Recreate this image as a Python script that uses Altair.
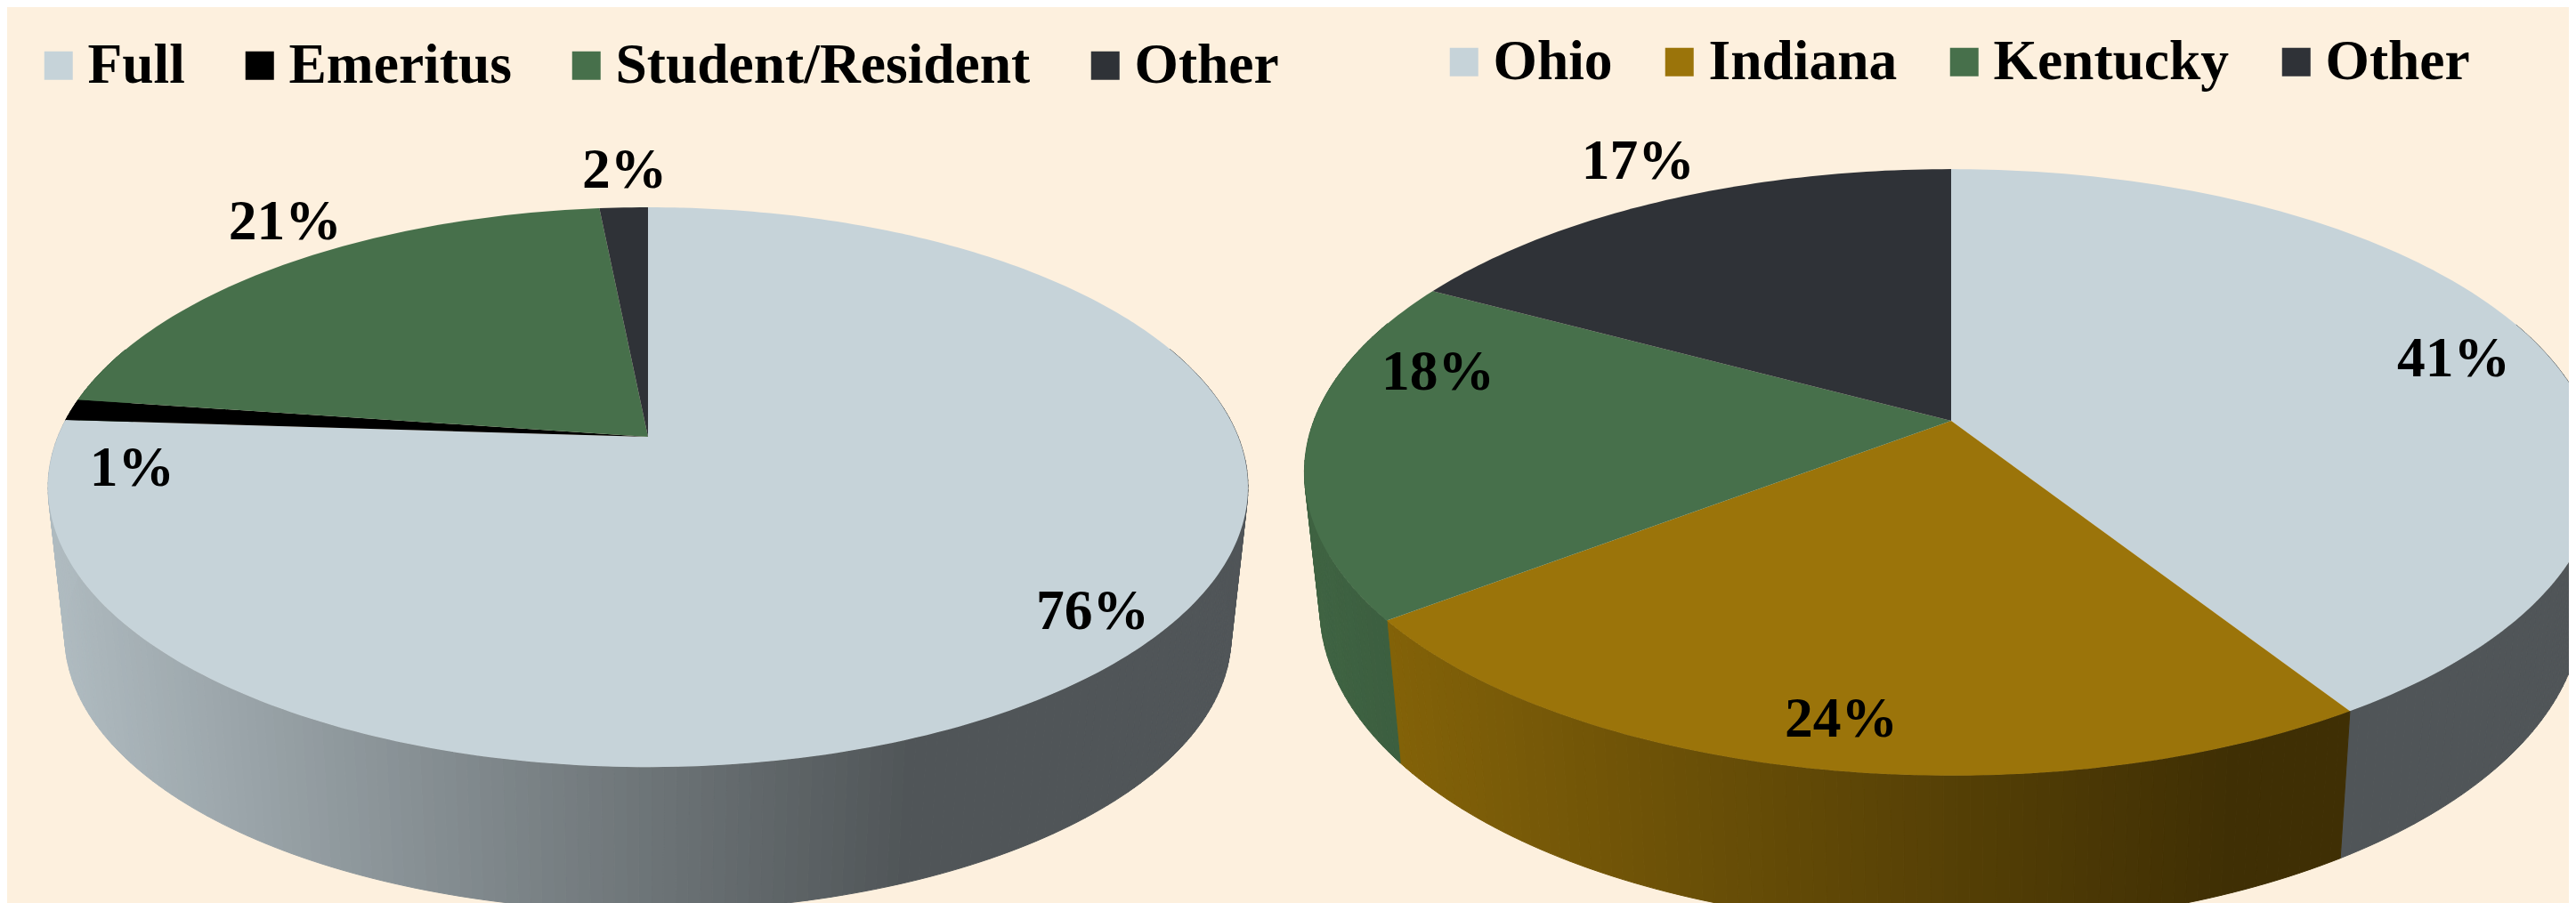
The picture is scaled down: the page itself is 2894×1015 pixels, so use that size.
import math
import altair as alt

# ---- data (percent of each pie, clockwise from 12 o'clock)
LEFT_CATS = ["Full", "Emeritus", "Student/Resident", "Other"]
LEFT_VALUES = [76.0, 1.25, 21.2, 1.55]
RIGHT_CATS = ["Ohio", "Indiana", "Kentucky", "Other"]
RIGHT_VALUES = [41.0, 23.6, 18.3, 17.1]

# ---- styles
LEFT_COLORS = ["#c6d3d9", "#000000", "#47704b", "#2f3237"]
RIGHT_COLORS = ["#c6d3d9", "#9b740a", "#47704b", "#2f3237"]
BG = "#fdf0de"
FONT = "Liberation Serif"
FS = 63.5

# ---- perspective model of each pie: rim point = homography of the unit circle
LEFT_PIE = dict(cx=728, y0=491, a=663, b=304.4, k=0.18, sx=0.972, sy=0.983, y0b=659)
RIGHT_PIE = dict(cx=2192, y0=473, a=716, b=331, k=0.17, sx=0.976, sy=1.05, y0b=622)
# label nudges from the rim point at each slice's mid angle
LEFT_NUDGE = [(-23, -39), (68, 85), (-2, -27), (1, -22)]
RIGHT_NUDGE = [(-92, 38), (27, -36), (147, -61), (-32, -24)]


def rim(p, deg):
    t = math.radians(deg)
    u, v = math.sin(t), math.cos(t)
    w = 1 + p["k"] * v
    return p["cx"] + p["a"] * u / w, p["y0"] - p["b"] * v / w


def rim_low(p, deg):
    x, y = rim(p, deg)
    return p["cx"] + (x - p["cx"]) * p["sx"], p["y0b"] + (y - p["y0"]) * p["sy"]


def shade(p, x):
    rx = p["a"] / math.sqrt(1 - p["k"] ** 2)
    f = (x - (p["cx"] - rx)) / (2 * rx)
    return 0.885 - (0.885 - 0.404) * min(max(f, 0) / 0.72, 1)


def hexmul(c, s):
    return "#" + "".join(
        f"{round(int(c[i:i + 2], 16) * s):02x}" for i in (1, 3, 5)
    )


def feature(ring, **props):
    ring = [[round(x, 2), round(y, 2)] for x, y in ring]
    ring.append(ring[0])
    return {
        "type": "Feature",
        "properties": props,
        "geometry": {"type": "Polygon", "coordinates": [ring]},
    }


def spans(values):
    out, a = [], 0.0
    for val in values:
        b = a + val * 3.6
        out.append((a, b))
        a = b
    return out


def build(p, cats, values, colors, nudges):
    tops, walls, labels = [], [], []
    for cat, val, col, (a, b), (dx, dy) in zip(cats, values, colors, spans(values), nudges):
        n = max(2, int((b - a) / 1.0) + 1)
        angles = [a + (b - a) * i / n for i in range(n + 1)]
        tops.append(feature([(p["cx"], p["y0"])] + [rim(p, d) for d in angles], name=cat))
        for d0, d1 in zip(angles, angles[1:]):
            if math.cos(math.radians((d0 + d1) / 2)) > 0.35:
                continue
            t0, t1, l0, l1 = rim(p, d0), rim(p, d1), rim_low(p, d0), rim_low(p, d1)
            fill = hexmul(col, shade(p, (t0[0] + t1[0]) / 2))
            walls.append(feature([t0, t1, l1, l0], fill=fill))
        mx, my = rim(p, (a + b) / 2)
        labels.append({"lx": mx + dx - 8, "ly": my + dy - 8, "text": f"{round(val)}%"})
    return tops, walls, labels


l_tops, l_walls, l_labels = build(LEFT_PIE, LEFT_CATS, LEFT_VALUES, LEFT_COLORS, LEFT_NUDGE)
r_tops, r_walls, r_labels = build(RIGHT_PIE, RIGHT_CATS, RIGHT_VALUES, RIGHT_COLORS, RIGHT_NUDGE)

PROJ = dict(type="identity", scale=1, translate=[-8, -8])


def legend(x, y, pad):
    return alt.Legend(
        title=None,
        orient="none",
        legendX=x,
        legendY=y,
        direction="horizontal",
        columns=4,
        gridAlign="none",
        columnPadding=pad,
        rowPadding=0,
        padding=0,
        symbolType="square",
        symbolSize=1024,
        symbolStrokeWidth=0,
        symbolOpacity=1,
        labelOffset=1,
        labelFont=FONT,
        labelFontSize=FS,
        labelFontWeight="bold",
        labelColor="#000000",
        labelLimit=1000,
    )


walls = (
    alt.Chart(alt.Data(values=l_walls + r_walls))
    .mark_geoshape(strokeWidth=1, clip=True)
    .encode(
        fill=alt.Fill("properties.fill:N", scale=None),
        stroke=alt.Stroke("properties.fill:N", scale=None),
    )
    .project(**PROJ)
)


def top(features, cats, colors, leg):
    return (
        alt.Chart(alt.Data(values=features))
        .mark_geoshape(clip=True, strokeWidth=0)
        .encode(
            color=alt.Color(
                "properties.name:N",
                scale=alt.Scale(domain=cats, range=colors),
                legend=leg,
            )
        )
        .project(**PROJ)
    )


labels = (
    alt.Chart(alt.Data(values=l_labels + r_labels))
    .mark_text(
        font=FONT,
        fontSize=FS,
        fontWeight="bold",
        color="#000000",
        align="center",
        baseline="alphabetic",
    )
    .encode(
        x=alt.X("lx:Q", scale=None, axis=None),
        y=alt.Y("ly:Q", scale=None, axis=None),
        text="text:N",
    )
)

chart = (
    alt.layer(
        walls,
        top(l_tops, LEFT_CATS, LEFT_COLORS, legend(26, 34, 52)),
        top(r_tops, RIGHT_CATS, RIGHT_COLORS, legend(1605, 30, 43)),
        labels,
    )
    .resolve_scale(color="independent")
    .properties(
        width=2878,
        height=1007,
        background=BG,
        padding=0,
        autosize=alt.AutoSizeParams(type="none"),
    )
    .configure_view(stroke=None)
)

chart.save("out.html", embed_options={"renderer": "svg", "actions": False})
